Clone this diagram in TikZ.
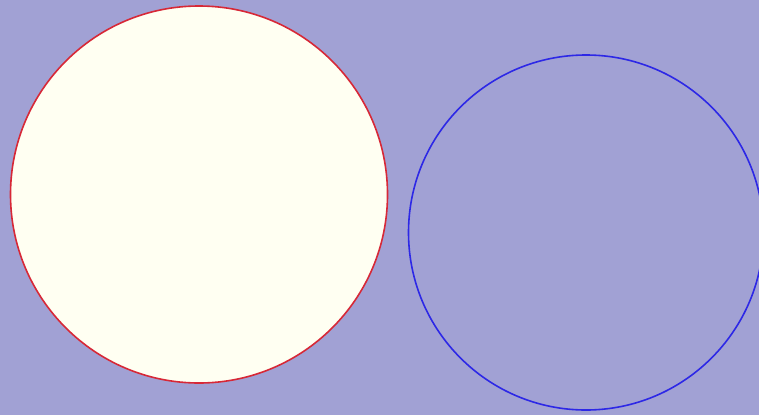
\documentclass[tikz,border=0pt]{standalone}
\definecolor{bg}{RGB}{161,161,212}
\definecolor{ivoryfill}{RGB}{255,255,242}
\definecolor{redline}{RGB}{215,40,55}
\definecolor{blueline}{RGB}{45,40,230}
\begin{document}
\begin{tikzpicture}[x=1pt,y=-1pt,
  disc/.style={circle,draw,line width=1.6pt,inner sep=0pt}]
\fill[bg] (0,0) rectangle (759,415);
\useasboundingbox (0,0) rectangle (759,415);
\node[disc,draw=redline,fill=ivoryfill,minimum size=377pt] (a) at (199,194.5) {};
\node[disc,draw=blueline,minimum size=355pt] (b) at (586,232.5) {};
\end{tikzpicture}
\end{document}
